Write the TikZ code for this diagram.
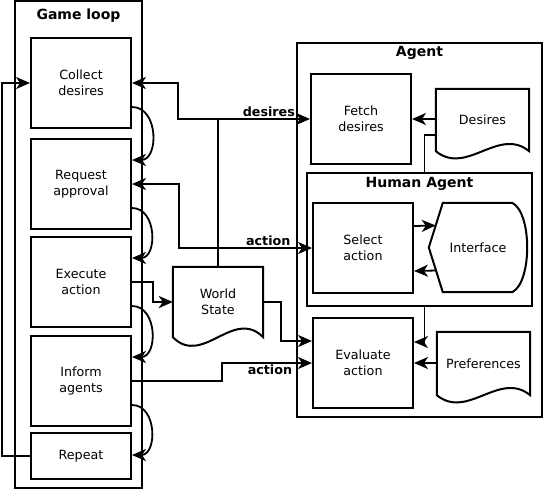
\documentclass[tikz,border=0pt]{standalone}
\usepackage{fontspec}
\setmainfont{DejaVu Sans}
\usetikzlibrary{shapes}
\usetikzlibrary{arrows.meta}
\usetikzlibrary{calc}

\begin{document}
\begin{tikzpicture}[x=1pt,y=-1pt,>={Stealth[length=14pt,width=12pt,inset=4pt]}]
			\tikzstyle{box}=[rectangle,draw,line width=2pt,minimum width=100,minimum height=90,align=center,font=\fontsize{12.7}{15.5}\selectfont]
			\tikzstyle{docbox}=[rectangle,minimum width=93,minimum height=62,align=center,font=\fontsize{12.7}{15.5}\selectfont]
			\tikzstyle{outline}=[line width=2pt,line join=miter]
			\tikzstyle{group}=[rectangle,draw,line width=1.8pt,inner sep=0pt]
			\tikzstyle{grouptitle}=[font=\bfseries\fontsize{14}{16}\selectfont]
			\tikzstyle{lbl}=[font=\bfseries\fontsize{12.7}{15}\selectfont,inner sep=1pt]
			\tikzstyle{conn}=[line width=1.8pt]

			\useasboundingbox (0,0) rectangle (544,490);

			% containers
			\node[group,minimum width=127,minimum height=487] (gameloop) at (78.5,244.5) {};
			\node[grouptitle] (gltitle) at (78.5,16) {Game loop};
			\node[group,minimum width=245,minimum height=374] (agent) at (419.5,230) {};
			\node[grouptitle] (agtitle) at (419.5,53) {Agent};
			\node[group,minimum width=225,minimum height=133] (human) at (419.5,239.5) {};
			\node[grouptitle] (hatitle) at (419.5,184) {Human Agent};

			% game loop steps
			\node[box] (collect) at (81,83) {Collect\\desires};
			\node[box] (request) at (81,184) {Request\\approval};
			\node[box] (exec) at (81,282) {Execute\\action};
			\node[box] (inform) at (81,381) {Inform\\agents};
			\node[box,minimum height=46] (repeat) at (81,456) {Repeat};

			% agent steps
			\node[box] (fetch) at (361,119) {Fetch\\desires};
			\node[box] (select) at (363,248) {Select\\action};
			\node[box] (eval) at (363,363) {Evaluate\\action};

			% documents
			\node[docbox,minimum width=90,minimum height=70] (ws) at (218,302) {World\\State};
			\draw[outline] (ws.south west) -- (ws.north west) -- (ws.north east) -- (ws.south east)
				.. controls ($(ws.south east)!0.33!(ws.south west)+(0,-30)$) and ($(ws.south east)!0.67!(ws.south west)+(0,30)$) .. (ws.south west) -- cycle;
			\node[docbox] (desires) at (482.5,120) {Desires};
			\draw[outline] (desires.south west) -- (desires.north west) -- (desires.north east) -- (desires.south east)
				.. controls ($(desires.south east)!0.33!(desires.south west)+(0,-25)$) and ($(desires.south east)!0.67!(desires.south west)+(0,25)$) .. (desires.south west) -- cycle;
			\node[docbox,minimum height=63] (prefs) at (483.5,363.5) {Preferences};
			\draw[outline] (prefs.south west) -- (prefs.north west) -- (prefs.north east) -- (prefs.south east)
				.. controls ($(prefs.south east)!0.33!(prefs.south west)+(0,-25)$) and ($(prefs.south east)!0.67!(prefs.south west)+(0,25)$) .. (prefs.south west) -- cycle;

			% display
			\node[docbox,minimum width=98,minimum height=89] (iface) at (478,247.5) {Interface};
			\draw[outline] (iface.west) -- ($(iface.north west)+(14,0)$) -- ($(iface.north east)+(-15,0)$)
				.. controls ($(iface.north east)+(5,10)$) and ($(iface.south east)+(5,-10)$) .. ($(iface.south east)+(-15,0)$)
				-- ($(iface.south west)+(14,0)$) -- cycle;

			% game loop sequence
			\draw[conn,->] ($(collect.south east)+(0,-22)$) to[out=0,in=0,looseness=1.3] ($(request.north east)+(0,22)$);
			\draw[conn,->] ($(request.south east)+(0,-22)$) to[out=0,in=0,looseness=1.3] ($(exec.north east)+(0,22)$);
			\draw[conn,->] ($(exec.south east)+(0,-22)$) to[out=0,in=0,looseness=1.3] ($(inform.north east)+(0,22)$);
			\draw[conn,->] ($(inform.south east)+(0,-22)$) to[out=0,in=0,looseness=1.3] ($(repeat.north east)+(0,23)$);
			\draw[conn,->] (repeat.west) -- ++(-28,0) |- (collect.west);

			% messages
			\draw[conn,<->] (collect.east) -- ++(46,0) |- node[lbl,pos=0.95,above left] (desireslbl) {desires} (fetch.west);
			\draw[conn,<->] (request.east) -- ++(47,0) |- node[lbl,pos=0.926,above left] (actionlbl) {action} (select.west);
			\draw[conn] (ws.north) -- (ws.north |- fetch.west);
			\draw[conn,->] (exec.east) -- ++(21,0) |- (ws.west);
			\draw[conn,->] (ws.east) -- ++(18,0) |- ($(eval.west)+(0,-22)$);
			\draw[conn,->] (inform.east) -- ++(90,0) |- node[lbl,pos=0.9,below left] (resultlbl) {action} (eval.west);

			% inside the agent
			\draw[conn,->] (desires.west |- fetch.east) -- (fetch.east);
			\draw[conn] ($(desires.west)+(0,15)$) -| ($(human.north)+(5,0)$);
			\draw[conn,->] ($(select.east)+(0,-22)$) -- ($(iface.west)+(7,-22)$);
			\draw[conn,->] ($(iface.west)+(8,23)$) -- ($(select.east)+(0,23)$);
			\draw[conn,->] ($(human.south)+(5,0)$) |- ($(eval.east)+(0,-21)$);
			\draw[conn,->] (prefs.west |- eval.east) -- (eval.east);
\end{tikzpicture}
\end{document}
